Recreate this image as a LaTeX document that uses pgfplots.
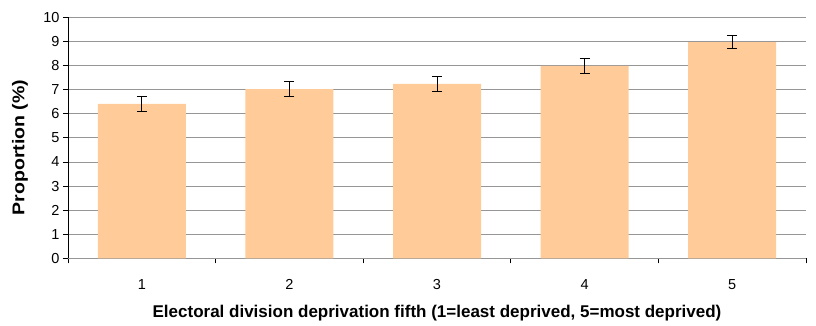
\documentclass[border=0pt]{standalone}
\usepackage{graphicx}
\usepackage{pgfplots}
\pgfplotsset{compat=1.18}
\usepackage{fontspec}
\setmainfont{Liberation Sans}
\definecolor{barfill}{RGB}{255,204,153}
\definecolor{gridgray}{RGB}{150,150,150}
\begin{document}
\begin{tikzpicture}
\path[use as bounding box] (-68pt,-67.7pt) rectangle (748pt,258.3pt);
\begin{axis}[
  scale only axis,
  width=738pt, height=240.8pt,
  xmin=-0.5, xmax=4.5,
  ymin=0, ymax=10,
  ytick={0,1,...,10},
  xtick={0,1,2,3,4},
  xticklabels={1,2,3,4,5},
  minor xtick={-0.5,0.5,1.5,2.5,3.5,4.5},
  major x tick style={draw=none},
  minor x tick style={black, line width=0.8pt},
  minor tick length=5pt,
  major tick length=5pt,
  tick align=outside,
  xtick pos=bottom, ytick pos=left,
  axis x line*=bottom, axis y line*=left,
  x axis line style={gridgray, line width=1.2pt, -},
  y axis line style={black, line width=0.8pt, -},
  ytick style={black, line width=0.8pt},
  ymajorgrids,
  grid style={gridgray, line width=0.9pt},
  tick label style={font=\fontsize{14.5}{16}\selectfont},
  /pgf/number format/assume math mode=true,
  xticklabel style={yshift=-13pt},
  xlabel={\bfseries Electoral division deprivation fifth (1=least deprived, 5=most deprived)},
  ylabel={\scalebox{1.15}[1]{\bfseries Proportion (\%)}},
  label style={font=\fontsize{17}{19}\selectfont},
  xlabel style={at={(axis description cs:0.5,0)}, anchor=center, yshift=-54.7pt},
  ylabel style={at={(axis description cs:-0.065,0.46)}, anchor=center},
]
\addplot[ybar, bar width=88pt, fill=barfill, draw=none,
  error bars/.cd, y dir=both, y explicit,
  error bar style={black, line width=0.9pt},
  error mark options={rotate=90, mark size=5pt, black, line width=0.9pt}]
  coordinates {
  (0,6.41) +- (0,0.33)
  (1,7.03) +- (0,0.31)
  (2,7.24) +- (0,0.33)
  (3,7.99) +- (0,0.31)
  (4,8.98) +- (0,0.28)
  };
\end{axis}
\end{tikzpicture}
\end{document}
